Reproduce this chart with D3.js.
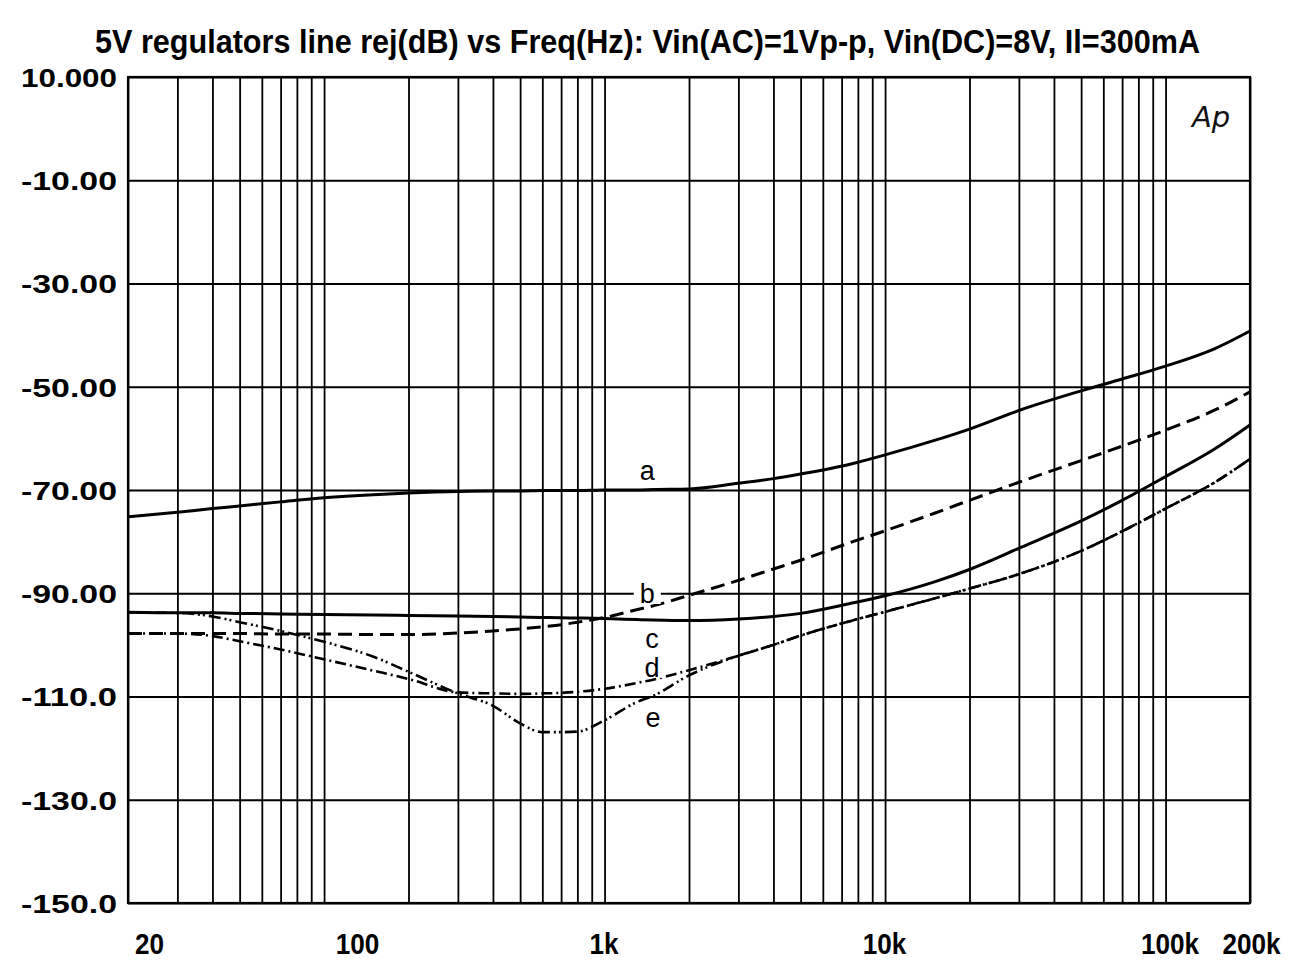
<!DOCTYPE html>
<html>
<head>
<meta charset="utf-8">
<script src="https://cdn.jsdelivr.net/npm/d3@7"></script>
<style>
  html, body { margin: 0; padding: 0; background: #fff; }
  svg { display: block; }
</style>
</head>
<body>
<svg id="chart" width="1292" height="968"></svg>
<script>
// Sweep frequencies (Hz) shared by every trace
const freqs = [20, 30, 40, 50, 70, 100, 150, 200, 300, 400, 500, 600, 700, 800,
  1000, 1300, 1500, 2000, 3000, 4000, 5000, 7500, 10000, 15000, 20000, 30000,
  50000, 70000, 100000, 150000, 200000];

// Line rejection (dB) for each regulator
const seriesA = [-75.2, -74.3, -73.6, -73.1, -72.3, -71.5, -70.9, -70.6, -70.3, -70.2, -70.2, -70.1, -70.1, -70.1,
  -70.0, -70.0, -69.9, -69.8, -68.7, -67.8, -66.9, -65.0, -63.2, -60.4, -58.2, -54.6,
  -50.8, -48.5, -46.0, -42.6, -39.2];
const seriesB = [-97.8, -97.8, -97.8, -97.8, -97.9, -97.9, -98.0, -98.0, -97.7, -97.3, -96.9, -96.5, -96.1, -95.6,
  -94.7, -93.2, -92.4, -90.4, -87.5, -85.3, -83.6, -80.2, -77.9, -74.5, -72.0, -68.5,
  -64.3, -61.5, -58.4, -54.5, -51.0];
const seriesC = [-93.7, -93.8, -93.8, -93.9, -94.0, -94.1, -94.2, -94.3, -94.4, -94.5, -94.6, -94.7, -94.75, -94.8,
  -94.9, -95.1, -95.2, -95.3, -95.0, -94.5, -93.9, -92.0, -90.5, -87.8, -85.4, -81.3,
  -76.0, -72.0, -67.4, -62.0, -57.4];
const seriesD = [-97.8, -97.8, -98.3, -99.3, -100.9, -102.8, -105.0, -106.6, -109.2, -109.4, -109.5, -109.4, -109.3, -109.1,
  -108.5, -107.4, -106.7, -104.9, -102.1, -100.0, -98.2, -95.4, -93.6, -91.0, -89.1, -86.3,
  -81.8, -78.0, -73.6, -68.5, -64.0];
const seriesE = [-93.7, -93.8, -94.5, -95.6, -97.3, -99.4, -102.3, -105.2, -109.4, -111.8, -115.2, -116.9, -116.9, -116.8,
  -114.6, -111.1, -109.8, -105.9, -102.1, -100.0, -98.2, -95.4, -93.6, -91.0, -89.1, -86.3,
  -81.8, -78.0, -73.6, -68.5, -64.0];

const seriesNames = ["a", "b", "c", "d", "e"];

// Axis ticks
const xTickValues = [20, 100, 1000, 10000, 100000, 200000];
const xTickLabels = ["20", "100", "1k", "10k", "100k", "200k"];
const yTickValues = [10, -10, -30, -50, -70, -90, -110, -130, -150];
const yTickLabels = ["10.000", "-10.00", "-30.00", "-50.00", "-70.00", "-90.00", "-110.0", "-130.0", "-150.0"];

const titleText = "5V regulators line rej(dB) vs Freq(Hz): Vin(AC)=1Vp-p, Vin(DC)=8V, Il=300mA";

// ---- layout and styling ----
const plot = { left: 128, top: 77, right: 1250, bottom: 903 };
// horizontal nudge of each frequency label (px)
const xLabelNudge = [21, 33, -1, -1, 4, 1];
const traceStyle = {
  a: { dash: null, width: 3 },
  b: { dash: "14,7", width: 3 },
  c: { dash: null, width: 3 },
  d: { dash: "11,4,2,4", width: 2.6 },
  e: { dash: "12,4,2,3,2,4", width: 2.6 }
};
// where each trace name is written: [frequency, dB]
const nameAnchor = {
  a: [1420, -66.1],
  b: [1420, -90.0],
  c: [1476, -98.7],
  d: [1476, -104.3],
  e: [1488, -114.0]
};

const svg = d3.select("#chart");
const x = d3.scaleLog().domain([20, 200000]).range([plot.left, plot.right]);
const y = d3.scaleLinear().domain([-150, 10]).range([plot.bottom, plot.top]);

// Title
svg.append("text")
  .attr("x", (95 + 1200) / 2)
  .attr("y", 53)
  .attr("text-anchor", "middle")
  .attr("textLength", 1105)
  .attr("lengthAdjust", "spacingAndGlyphs")
  .style("font-family", "'Liberation Sans Narrow', 'Liberation Sans', Arial, sans-serif")
  .style("font-weight", "bold")
  .style("font-size", "33px")
  .text(titleText);

// Vertical grid: every 1..9 multiple across the decades
const gridX = svg.append("g")
  .attr("transform", `translate(0,${plot.bottom})`)
  .call(d3.axisBottom(x).ticks(40).tickSize(-(plot.bottom - plot.top)).tickFormat(""));
gridX.select(".domain").remove();
gridX.selectAll(".tick line").attr("stroke", "#000").attr("stroke-width", 1.8);

// Horizontal grid
const gridY = svg.append("g")
  .attr("transform", `translate(${plot.left},0)`)
  .call(d3.axisLeft(y).tickValues(yTickValues).tickSize(-(plot.right - plot.left)).tickFormat(""));
gridY.select(".domain").remove();
gridY.selectAll(".tick line").attr("stroke", "#000").attr("stroke-width", 1.8);

// Frame
svg.append("rect")
  .attr("x", plot.left).attr("y", plot.top)
  .attr("width", plot.right - plot.left).attr("height", plot.bottom - plot.top)
  .attr("fill", "none").attr("stroke", "#000").attr("stroke-width", 2.2);

// Y tick labels
const yAxis = svg.append("g")
  .attr("transform", `translate(${plot.left},0)`)
  .call(d3.axisLeft(y).tickValues(yTickValues).tickSize(0).tickPadding(11)
    .tickFormat((d, i) => yTickLabels[i]));
yAxis.select(".domain").remove();
yAxis.selectAll(".tick text")
  .attr("textLength", 96)
  .attr("lengthAdjust", "spacingAndGlyphs")
  .attr("dy", "0.36em")
  .style("font-family", "'Liberation Sans', Arial, sans-serif")
  .style("font-weight", "bold")
  .style("font-size", "26px")
  .attr("fill", "#000");

// X tick labels (bold, slightly condensed)
const xAxis = svg.append("g")
  .attr("transform", `translate(0,${plot.bottom})`)
  .call(d3.axisBottom(x).tickValues(xTickValues).tickSize(0).tickPadding(30)
    .tickFormat((d, i) => xTickLabels[i]));
xAxis.select(".domain").remove();
xAxis.selectAll(".tick text")
  .style("font-family", "'Liberation Sans Narrow', 'Liberation Sans', Arial, sans-serif")
  .style("font-weight", "bold")
  .style("font-size", "29px")
  .attr("fill", "#000")
  .attr("dx", (d, i) => xLabelNudge[i])
  .each(function () {
    const w = this.getComputedTextLength();
    d3.select(this).attr("textLength", w * 0.9).attr("lengthAdjust", "spacingAndGlyphs");
  });

// Trace names, each on a small white patch that breaks the grid
const nameFont = "'Liberation Sans', Arial, sans-serif";
const names = svg.append("g");
const nameTexts = names.selectAll("text")
  .data(seriesNames)
  .join("text")
  .attr("x", d => x(nameAnchor[d][0]))
  .attr("y", d => y(nameAnchor[d][1]))
  .attr("text-anchor", "middle")
  .attr("dy", "0.36em")
  .style("font-family", nameFont)
  .style("font-size", "27px")
  .text(d => d);
nameTexts.each(function () {
  const b = this.getBBox();
  names.insert("rect", "text")
    .attr("x", b.x - 6).attr("y", b.y + 4)
    .attr("width", b.width + 12).attr("height", b.height - 9)
    .attr("fill", "#fff");
});

// Traces
const traceData = { a: seriesA, b: seriesB, c: seriesC, d: seriesD, e: seriesE };
const line = d3.line()
  .x(p => x(p[0]))
  .y(p => y(p[1]))
  .curve(d3.curveMonotoneX);

svg.append("g")
  .selectAll("path")
  .data(seriesNames)
  .join("path")
  .attr("d", k => line(freqs.map((f, i) => [f, traceData[k][i]])))
  .attr("fill", "none")
  .attr("stroke", "#000")
  .attr("stroke-width", k => traceStyle[k].width)
  .attr("stroke-dasharray", k => traceStyle[k].dash)
  .attr("stroke-linejoin", "round");

names.raise();

// Instrument mark in the corner
svg.append("text")
  .attr("x", 1211)
  .attr("y", 127)
  .attr("text-anchor", "middle")
  .style("font-family", "'DejaVu Sans', sans-serif")
  .style("font-style", "italic")
  .style("font-weight", "normal")
  .style("font-size", "29px")
  .attr("fill", "#111")
  .text("Ap");
</script>
</body>
</html>
